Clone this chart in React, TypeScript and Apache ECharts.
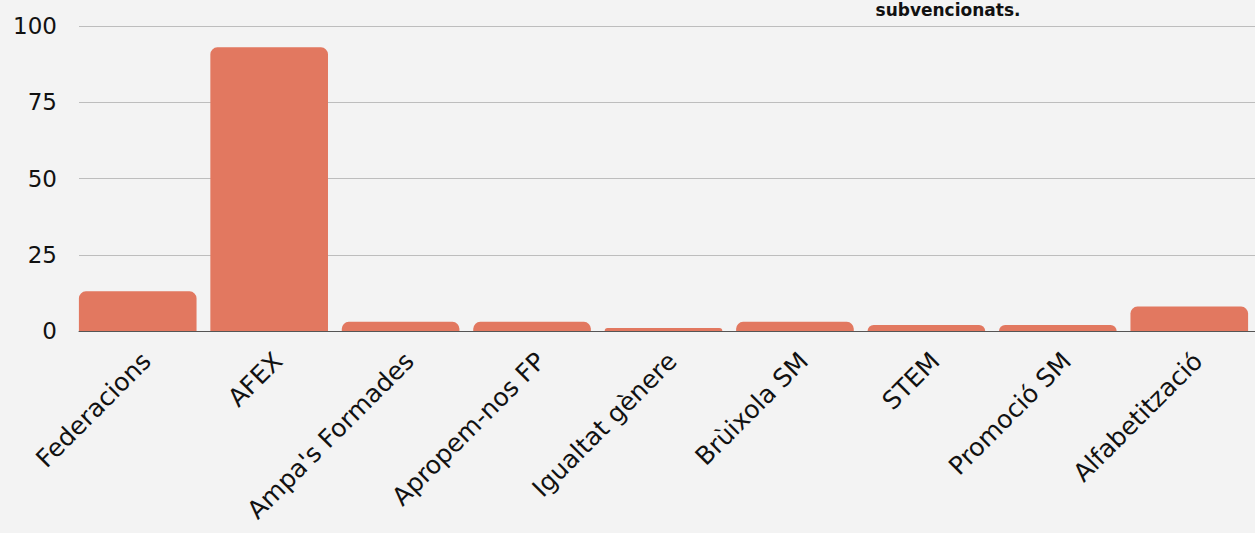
import React, { useEffect, useRef } from "react";
import * as echarts from "echarts";

const categories = [
  "Federacions",
  "AFEX",
  "Ampa's Formades",
  "Apropem-nos FP",
  "Igualtat gènere",
  "Brùixola SM",
  "STEM",
  "Promoció SM",
  "Alfabetització",
];
const values = [13, 93, 3, 3, 1, 3, 2, 2, 8];
const yTicks = [0, 25, 50, 75, 100];
const titleText = "subvencionats.";

const FONT = "'DejaVu Sans', sans-serif";

export default function App() {
  const ref = useRef<HTMLDivElement>(null);
  useEffect(() => {
    document.body.style.margin = "0";
    document.body.style.background = "#f3f3f3";
    const chart = echarts.init(ref.current!, undefined, { renderer: "svg" });
    chart.setOption({
      animation: false,
      backgroundColor: "#f3f3f3",
      textStyle: { fontFamily: FONT },
      graphic: [
        {
          type: "text",
          x: 948,
          y: 1,
          style: {
            text: titleText,
            fill: "#111",
            font: "bold 17px 'DejaVu Sans'",
            textAlign: "center",
            textVerticalAlign: "top",
          },
        },
      ],
      grid: [
        { left: 79, right: 0, top: 26, bottom: 202, containLabel: false },
        { left: 72, right: -3, top: 26, bottom: 202, containLabel: false },
      ],
      xAxis: [
        {
          type: "value",
          gridIndex: 0,
          min: 0,
          max: 1,
          axisLabel: { show: false },
          axisTick: { show: false },
          splitLine: { show: false },
          axisLine: { show: true, lineStyle: { color: "#555", width: 1 } },
        },
        {
          type: "category",
          gridIndex: 1,
          data: categories,
          axisTick: { show: false },
          axisLine: { show: false },
          axisLabel: {
            rotate: 45,
            interval: 0,
            margin: 17,
            align: "right",
            verticalAlign: "top",
            color: "#111",
            fontSize: 25,
            fontFamily: FONT,
          },
        },
      ],
      yAxis: [
        {
          type: "value",
          gridIndex: 0,
          min: 0,
          max: 100,
          interval: 25,
          axisLine: { show: false },
          axisTick: { show: false },
          splitLine: { lineStyle: { color: "#bdbdbd", width: 1 } },
          axisLabel: {
            margin: 22,
            color: "#111",
            fontSize: 23,
            fontFamily: FONT,
            formatter: (v: number) => (yTicks.includes(v) ? String(v) : ""),
          },
        },
        {
          type: "value",
          gridIndex: 1,
          min: 0,
          max: 100,
          interval: 25,
          show: false,
        },
      ],
      series: [
        {
          type: "bar",
          xAxisIndex: 1,
          yAxisIndex: 1,
          data: values,
          barCategoryGap: "10.5%",
          itemStyle: { color: "#e27860", borderRadius: [7, 7, 0, 0] },
        },
      ],
    });
    return () => chart.dispose();
  }, []);
  return <div ref={ref} style={{ width: 1255, height: 533 }} />;
}
